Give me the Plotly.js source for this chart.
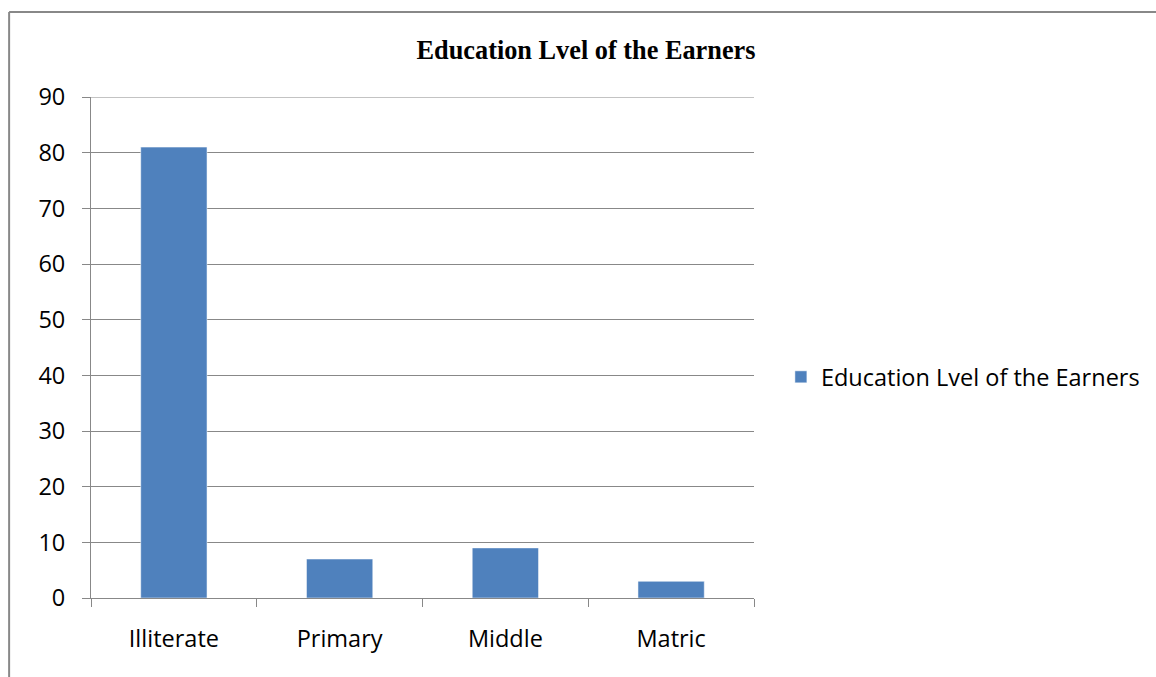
<!DOCTYPE html>
<html>
<head>
<meta charset="utf-8">
<script src="https://cdn.plot.ly/plotly-3.0.1.min.js"></script>
<style>
  html, body { margin: 0; padding: 0; background: #fff; }
  #chart { width: 1156px; height: 677px; }
</style>
</head>
<body>
<div id="chart"></div>
<script>
const categories = ["Illiterate", "Primary", "Middle", "Matric"];
const values = [81, 7, 9, 3];
const seriesName = "Education Lvel of the Earners";
const chartTitle = "Education Lvel of the Earners";
const yTicks = [0, 10, 20, 30, 40, 50, 60, 70, 80, 90];
const yMax = 90;

const labelFont = { family: "'Open Sans', Lato, sans-serif", size: 23.5, color: "#000" };

const trace = {
  type: "bar",
  x: categories,
  y: values,
  name: seriesName,
  width: 0.4,
  marker: { color: "#4F81BD", line: { color: "rgba(255,255,255,0.5)", width: 1 } },
  showlegend: true
};

const layout = {
  width: 1156,
  height: 677,
  margin: { l: 91, r: 401, t: 97, b: 79 },
  paper_bgcolor: "#fff",
  plot_bgcolor: "#fff",
  title: {
    text: "<b>" + chartTitle + "</b>",
    font: { family: "'Liberation Serif', 'Times New Roman', serif", size: 26.3, color: "#000" },
    x: 586 / 1156, xref: "container", xanchor: "center",
    y: 1 - 50 / 677, yref: "container", yanchor: "middle"
  },
  xaxis: {
    type: "category",
    tickson: "boundaries",
    ticks: "outside",
    ticklen: 8,
    tickcolor: "#888",
    showline: true,
    linecolor: "#888",
    linewidth: 1,
    showgrid: false,
    tickfont: labelFont,
    ticklabelstandoff: 20
  },
  yaxis: {
    range: [0, yMax],
    tickvals: yTicks,
    ticks: "outside",
    ticklen: 8,
    tickcolor: "#888",
    showline: true,
    linecolor: "#888",
    linewidth: 1,
    showgrid: true,
    gridcolor: "#888",
    gridwidth: 1,
    zeroline: false,
    tickfont: labelFont,
    ticklabelstandoff: 12
  },
  legend: {
    x: 1.039, xanchor: "left",
    y: 0.441, yanchor: "middle",
    font: labelFont,
    bgcolor: "rgba(0,0,0,0)"
  },
  shapes: [
    { type: "line", xref: "paper", yref: "y", x0: 0, x1: 1, y0: yMax, y1: yMax, line: { color: "#888", width: 1 } },
    { type: "line", xref: "paper", yref: "paper", x0: -0.1235, x1: 1.61, y0: 1.1697, y1: 1.1697, line: { color: "#888", width: 2 } },
    { type: "line", xref: "paper", yref: "paper", x0: -0.1235, x1: -0.1235, y0: 1.1697, y1: -0.17, line: { color: "#888", width: 2 } }
  ]
};

Plotly.newPlot("chart", [trace], layout, { displayModeBar: false, staticPlot: true });
</script>
</body>
</html>
